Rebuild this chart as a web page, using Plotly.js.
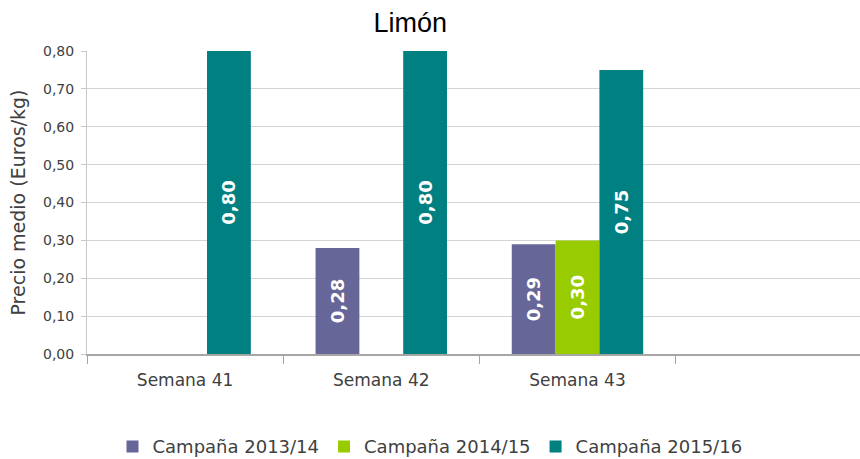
<!DOCTYPE html>
<html>
<head>
<meta charset="utf-8">
<script src="https://cdn.plot.ly/plotly-3.0.1.min.js"></script>
<style>html,body{margin:0;padding:0;background:#fff;}#chart{width:860px;height:459px;}</style>
</head>
<body>
<div id="chart"></div>
<script>
var categories = ["Semana 41", "Semana 42", "Semana 43"];
var seriesNames = ["Campaña 2013/14", "Campaña 2014/15", "Campaña 2015/16"];
var values2013 = [null, 0.28, 0.29];
var values2014 = [null, null, 0.30];
var values2015 = [0.80, 0.80, 0.75];
var colors = ["#666699", "#99CC00", "#008080"];
var yTicks = [0, 0.1, 0.2, 0.3, 0.4, 0.5, 0.6, 0.7, 0.8];

var allValues = [values2013, values2014, values2015];
var traces = allValues.map(function (vals, i) {
  return {
    type: "bar",
    name: seriesNames[i],
    x: categories,
    y: vals,
    marker: { color: colors[i] },
    text: vals.map(function (v) { return v === null ? "" : v.toFixed(2).replace(".", ","); }),
    textposition: "inside",
    insidetextanchor: "middle",
    textangle: -90,
    textfont: { family: "DejaVu Sans, sans-serif", size: 18, color: "#ffffff", weight: "bold" },
    hoverinfo: "skip",
    cliponaxis: false
  };
});

var layout = {
  width: 860,
  height: 459,
  margin: { l: 87, r: 0, t: 51, b: 105 },
  paper_bgcolor: "#ffffff",
  plot_bgcolor: "#ffffff",
  separators: ",.",
  barmode: "group",
  bargap: 0.33,
  bargroupgap: 0,
  showlegend: true,
  font: { family: "DejaVu Sans, sans-serif", color: "#404040" },
  title: {
    text: "Limón",
    font: { family: "Liberation Sans, Arial, sans-serif", size: 27, color: "#000000" },
    x: 0.477,
    xref: "container",
    xanchor: "center",
    y: 0.95,
    yref: "container",
    yanchor: "middle"
  },
  xaxis: {
    type: "category",
    categoryorder: "array",
    categoryarray: categories,
    range: [-0.5, 3.44],
    tickson: "boundaries",
    ticks: "outside",
    ticklen: 8,
    tickcolor: "#a6a6a6",
    tickwidth: 1,
    showline: true,
    linecolor: "#a6a6a6",
    linewidth: 2,
    showgrid: false,
    zeroline: false,
    tickangle: 0,
    automargin: false,
    ticklabelstandoff: 10,
    tickfont: { family: "DejaVu Sans, sans-serif", size: 17, color: "#404040" },
    fixedrange: true
  },
  yaxis: {
    range: [0, 0.8],
    tickvals: yTicks,
    tickformat: ".2f",
    ticks: "outside",
    ticklen: 5,
    tickcolor: "#c8c8c8",
    showline: true,
    linecolor: "#c8c8c8",
    linewidth: 1,
    showgrid: true,
    gridcolor: "#d4d4d4",
    gridwidth: 1,
    zeroline: false,
    automargin: false,
    ticklabelstandoff: 4,
    tickfont: { family: "DejaVu Sans, sans-serif", size: 14, color: "#404040" },
    title: {
      text: "Precio medio (Euros/kg)",
      font: { family: "DejaVu Sans, sans-serif", size: 19, color: "#404040" },
      standoff: 12
    },
    fixedrange: true
  },
  legend: {
    orientation: "h",
    x: 0.5,
    xref: "container",
    xanchor: "center",
    y: 0.067,
    yref: "container",
    yanchor: "top",
    font: { family: "DejaVu Sans, sans-serif", size: 18, color: "#404040" },
    itemwidth: 30,
    traceorder: "normal"
  }
};

Plotly.newPlot("chart", traces, layout, { displayModeBar: false, staticPlot: true });
</script>
</body>
</html>
